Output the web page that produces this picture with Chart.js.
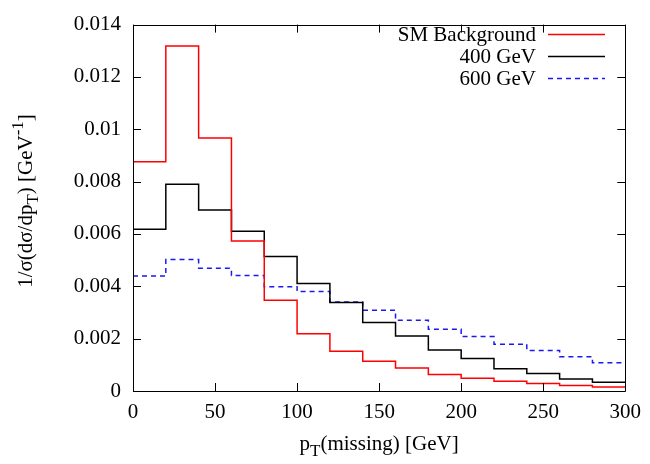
<!DOCTYPE html>
<html><head><meta charset="utf-8">
<script src="https://cdn.jsdelivr.net/npm/chart.js@4/dist/chart.umd.min.js"></script>
<style>html,body{margin:0;padding:0;background:#fff}</style>
</head><body>
<canvas id="c" width="650" height="464" style="width:650px;height:464px;display:block"></canvas>
<script>
const binEdges = [0,20,40,60,80,100,120,140,160,180,200,220,240,260,280,300];
const smBackground = [0.00876,0.01318,0.00967,0.00573,0.00347,0.00219,0.00152,0.00114,0.00088,0.00063,0.00049,0.00037,0.00029,0.00021,0.00015];
const signal400 = [0.00618,0.00790,0.00692,0.00610,0.00514,0.00411,0.00338,0.00262,0.00210,0.00157,0.00124,0.00085,0.00067,0.00046,0.00033];
const signal600 = [0.00439,0.00502,0.00469,0.00441,0.00398,0.00380,0.00340,0.00309,0.00270,0.00236,0.00208,0.00179,0.00155,0.00131,0.00108];
const seriesLabels = ['SM Background','400 GeV','600 GeV'];
const xTicks = [0,50,100,150,200,250,300];
const xTickLabels = ['0','50','100','150','200','250','300'];
const yTicks = [0,0.002,0.004,0.006,0.008,0.01,0.012,0.014];
const yTickLabels = ['0','0.002','0.004','0.006','0.008','0.01','0.012','0.014'];

const FONT = '"Liberation Serif", "Times New Roman", serif';
const FS = 21;

function toSteps(vals){
  return binEdges.map((x,i)=>({x:x, y: vals[Math.min(i, vals.length-1)]}));
}

function drawEnhanced(ctx, segs, x, y, align){
  const fontFor = s => (s===0? FS : Math.round(FS*0.8)) + 'px ' + FONT;
  let w = 0;
  segs.forEach(g=>{ ctx.font = fontFor(g.s); w += ctx.measureText(g.t).width; });
  let cx = align==='center' ? x - w/2 : x;
  ctx.textBaseline = 'alphabetic';
  ctx.textAlign = 'left';
  segs.forEach(g=>{
    ctx.font = fontFor(g.s);
    const dy = g.s===-1 ? FS*0.3 : (g.s===1 ? -FS*0.42 : 0);
    ctx.fillText(g.t, cx, y+dy);
    cx += ctx.measureText(g.t).width;
  });
}

const decor = {
  id:'decor',
  afterDatasetsDraw(chart){
    const ctx = chart.ctx, a = chart.chartArea;
    const xs = chart.scales.x, ys = chart.scales.y;
    ctx.save();
    ctx.strokeStyle = '#000'; ctx.lineWidth = 1;
    ctx.beginPath();
    ctx.rect(Math.round(a.left)+0.5, Math.round(a.top)+0.5, Math.round(a.right-a.left), Math.round(a.bottom-a.top));
    ctx.stroke();
    const L = 8;
    ctx.beginPath();
    xTicks.forEach(v=>{
      const px = Math.round(xs.getPixelForValue(v))+0.5;
      ctx.moveTo(px, a.bottom); ctx.lineTo(px, a.bottom-L);
      ctx.moveTo(px, a.top); ctx.lineTo(px, a.top+L);
    });
    yTicks.forEach(v=>{
      const py = Math.round(ys.getPixelForValue(v))+0.5;
      ctx.moveTo(a.left, py); ctx.lineTo(a.left+L, py);
      ctx.moveTo(a.right, py); ctx.lineTo(a.right-L, py);
    });
    ctx.stroke();

    // legend
    ctx.fillStyle = '#000';
    ctx.font = FS + 'px ' + FONT;
    ctx.textAlign = 'right'; ctx.textBaseline = 'middle';
    chart.data.datasets.forEach((ds,i)=>{
      const yy = 34 + i*22;
      ctx.fillText(ds.label, 536, yy+1);
      ctx.save();
      ctx.strokeStyle = ds.borderColor; ctx.lineWidth = ds.borderWidth;
      ctx.setLineDash(ds.borderDash || []);
      ctx.beginPath(); ctx.moveTo(548, yy+0.5); ctx.lineTo(605, yy+0.5); ctx.stroke();
      ctx.restore();
    });

    // axis titles
    ctx.fillStyle = '#000';
    drawEnhanced(ctx, [{t:'p',s:0},{t:'T',s:-1},{t:'(missing) [GeV]',s:0}], (a.left+a.right)/2, 450, 'center');
    ctx.save();
    ctx.translate(32, 201);
    ctx.rotate(-Math.PI/2);
    drawEnhanced(ctx, [{t:'1/σ(dσ/dp',s:0},{t:'T',s:-1},{t:') [GeV',s:0},{t:'-1',s:1},{t:']',s:0}], 0, 0, 'center');
    ctx.restore();
    ctx.restore();
  }
};

new Chart(document.getElementById('c'), {
  type:'line',
  data:{
    datasets:[
      {label:seriesLabels[0], data:toSteps(smBackground), borderColor:'#ff0000', borderWidth:1.5, stepped:'before', pointRadius:0, fill:false},
      {label:seriesLabels[1], data:toSteps(signal400), borderColor:'#000000', borderWidth:1.5, stepped:'before', pointRadius:0, fill:false},
      {label:seriesLabels[2], data:toSteps(signal600), borderColor:'#1a1aee', borderWidth:1.5, borderDash:[5,4], stepped:'before', pointRadius:0, fill:false}
    ]
  },
  options:{
    responsive:false, animation:false, devicePixelRatio:1,
    layout:{padding:{left:0,right:20,top:14,bottom:0}},
    plugins:{legend:{display:false}, tooltip:{enabled:false}},
    scales:{
      x:{type:'linear', min:0, max:300,
        afterBuildTicks(s){ s.ticks = xTicks.map(v=>({value:v})); },
        afterFit(s){ s.height = 73; },
        grid:{display:false, drawTicks:false}, border:{display:false},
        ticks:{padding:9, color:'#000', font:{family:FONT, size:FS}, maxRotation:0, autoSkip:false,
          callback:(v)=>{ const i = xTicks.indexOf(v); return i>=0 ? xTickLabels[i] : ''; }}
      },
      y:{type:'linear', min:0, max:0.014,
        afterBuildTicks(s){ s.ticks = yTicks.map(v=>({value:v})); },
        afterFit(s){ s.width = 133; },
        grid:{display:false, drawTicks:false}, border:{display:false},
        ticks:{padding:12, color:'#000', font:{family:FONT, size:FS}, autoSkip:false,
          callback:(v)=>{ const i = yTicks.findIndex(t=>Math.abs(t-v)<1e-9); return i>=0 ? yTickLabels[i] : ''; }}
      }
    }
  },
  plugins:[decor]
});
</script>
</body></html>
